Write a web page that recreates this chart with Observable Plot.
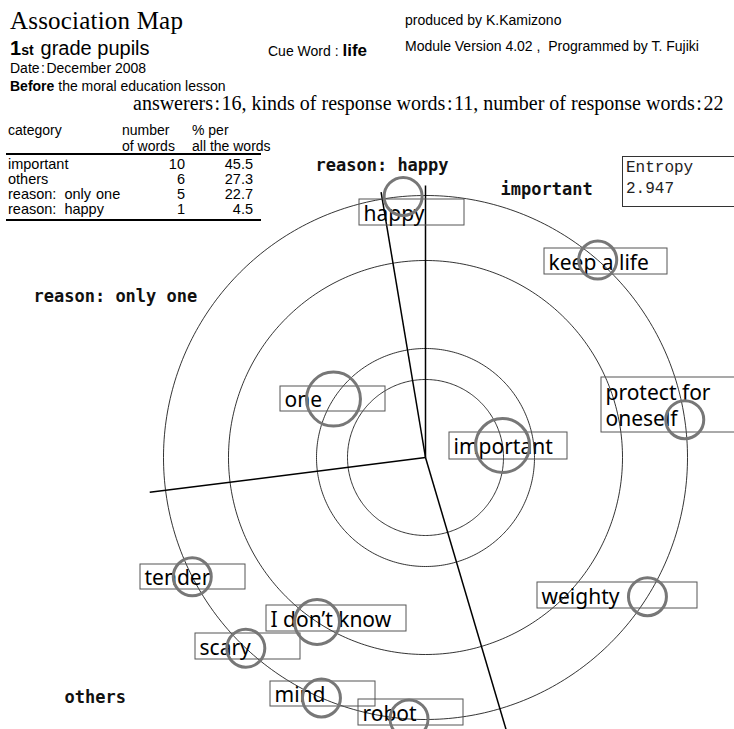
<!DOCTYPE html>
<html><head><meta charset="utf-8">
<script src="https://cdn.jsdelivr.net/npm/d3@7"></script>
<script src="https://cdn.jsdelivr.net/npm/@observablehq/plot@0.6"></script>
<style>
body{margin:0;background:#fff;}
#wrap{position:relative;width:734px;height:729px;overflow:hidden;font-family:"Liberation Sans",Arial,sans-serif;color:#000;background:#fff;}
#wrap svg{position:absolute;left:0;top:0;}
.t{position:absolute;white-space:pre;line-height:1;}
.rule{position:absolute;background:#000;}
.c{margin:0 1.5px;}
.cc{margin-right:3px;}
</style></head><body><div id="wrap"></div>
<script>
// ---- summary table data ----
const categories = ["important", "others", "reason: only one", "reason: happy"];
const categoryWordCounts = [10, 6, 5, 1];
const categoryPercents = ["45.5", "27.3", "22.7", "4.5"];

// ---- category sector boundaries (deg clockwise from up) and spoke lengths ----
const spokeAngles = [0, 163.5, 262.8, 350.5];
const spokeLengths = [272, 290, 278, 269];

// ---- category label anchors (map units, centre = 0,0, y up) ----
const catLabelX = [75, -361, -392, -110];
const catLabelY = [268, -240, 161, 292];

// ---- frequency rings ----
const ringCounts = [7, 5, 2, 1];
const ringRadii = [78, 109, 197, 262];

// ---- response words ----
const words = ["happy", "keep a life", "one", "important", "protect for\noneself", "weighty", "tender", "I don\u2019t know", "scary", "mind", "robot"];
const wordCategory = ["reason: happy", "important", "reason: only one", "important", "important", "important", "others", "others", "others", "others", "others"];
const wordCounts = [1, 1, 5, 7, 1, 1, 1, 2, 1, 1, 1];
const wordAngles = [355.1, 41.1, 302.4, 81.1, 81.7, 122.1, 242.9, 213.4, 223.3, 203.4, 183.6];
// label boxes: left, top, width, height (map units)
const boxLeft = [-66, 119, -145, 24, 176, 112, -285, -159, -230, -155, -67];
const boxTop = [258, 209, 71, 25, 80, -125, -107, -148, -176, -224, -242];
const boxW = [105, 123, 105, 118, 140, 160, 105, 140, 105, 105, 105];
const boxH = [26, 26, 25, 27, 55, 26, 25, 26, 26, 25, 26];

const entropy = "2.947";

// ---- build tables ----
const rad = d => d * Math.PI / 180;
const ringOf = c => ringRadii[ringCounts.indexOf(c)];
const wordData = words.map((w, i) => {
  const r = ringOf(wordCounts[i]);
  return {
    word: w, category: wordCategory[i], count: wordCounts[i],
    x: r * Math.sin(rad(wordAngles[i])), y: r * Math.cos(rad(wordAngles[i])),
    x1: boxLeft[i], x2: boxLeft[i] + boxW[i], y1: boxTop[i], y2: boxTop[i] - boxH[i]
  };
});
const ringPts = [];
ringRadii.forEach((r, k) => {
  for (let a = 0; a <= 360; a += 1) ringPts.push({ring: k, x: r * Math.sin(rad(a)), y: r * Math.cos(rad(a))});
});
const spokes = spokeAngles.map((a, i) => ({angle: a, x2: spokeLengths[i] * Math.sin(rad(a)), y2: spokeLengths[i] * Math.cos(rad(a))}));
const catLabels = categories.map((c, i) => ({name: c, x: catLabelX[i], y: catLabelY[i]}));

const chart = Plot.plot({
  width: 734, height: 729, margin: 0,
  x: {domain: [-425, 309], axis: null},
  y: {domain: [-272, 457], axis: null},
  r: {type: "log", domain: [1, 5], range: [19, 27], clamp: true},
  marks: [
    Plot.line(ringPts, {x: "x", y: "y", z: "ring", stroke: "#000", strokeWidth: 0.8}),
    Plot.link(spokes, {x1: () => 0, y1: () => 0, x2: "x2", y2: "y2", stroke: "#000", strokeWidth: 1.5}),
    Plot.rect(wordData, {x1: "x1", x2: "x2", y1: "y1", y2: "y2", stroke: "#555", strokeWidth: 1, fill: "none"}),
    Plot.text(wordData, {x: d => d.x1 + 4, y: d => (d.y1 + d.y2) / 2, text: "word", textAnchor: "start", lineAnchor: "middle", lineHeight: 1.24, fontSize: 21, fontFamily: "Noto Sans", fill: "#000"}),
    Plot.dot(wordData, {x: "x", y: "y", r: "count", stroke: "#777", strokeWidth: 3, fill: "none"}),
    Plot.text(catLabels, {x: "x", y: "y", text: "name", textAnchor: "start", lineAnchor: "middle", fontSize: 17, fontWeight: "bold", fontFamily: "DejaVu Sans Mono", fill: "#111"})
  ]
});
const wrap = document.getElementById("wrap");
wrap.appendChild(chart);

// ---- text overlays ----
function put(html, left, baseline, size, opts = {}) {
  const el = document.createElement("div");
  el.className = "t";
  el.innerHTML = html;
  const fam = opts.family || '"Liberation Sans", Arial, sans-serif';
  const k = opts.k || 0.847;
  el.style.fontFamily = fam;
  el.style.fontSize = size + "px";
  el.style.top = (baseline - k * size) + "px";
  if (opts.right != null) { el.style.right = (734 - opts.right) + "px"; el.style.textAlign = "right"; }
  else el.style.left = left + "px";
  if (opts.ls) el.style.letterSpacing = opts.ls + "px";
  if (opts.ws) el.style.wordSpacing = opts.ws + "px";
  if (opts.color) el.style.color = opts.color;
  wrap.appendChild(el);
  return el;
}
const serif = '"Liberation Serif", "Times New Roman", serif';
put("Association Map", 10, 29, 25, {family: serif, k: 0.8375, ls: 0.2});
put('<b>1</b><b style="font-size:14px;margin-right:7px">st</b>grade pupils', 10, 55, 20);
put('Date<span class="c">:</span>December 2008', 10, 73, 14);
put("<b>Before</b> the moral education lesson", 10, 91, 14);
put('Cue Word : <b style="font-size:17px">life</b>', 268, 54, 14);
put("produced by K.Kamizono", 405, 25, 14);
put("Module Version 4.02 ,  Programmed by T. Fujiki", 405, 51, 14);
put('answerers<span class="c">:</span>16, kinds of response words<span class="c">:</span>11, number of response words<span class="c">:</span>22', 133, 110, 20, {family: serif, k: 0.8375});

// summary table
put("category", 8, 135, 14);
put("number", 122, 135, 14);
put("% per", 192, 135, 14);
put("of words", 122, 151, 14);
put("all the words", 192, 151, 14);
function rule(top, h) { const r = document.createElement("div"); r.className = "rule"; r.style.left = "6px"; r.style.width = "255px"; r.style.top = top + "px"; r.style.height = h + "px"; wrap.appendChild(r); }
rule(153, 2);
categories.forEach((c, i) => {
  const b = 169 + 15 * i;
  put(c.replace(":", '<span class="cc">:</span>'), 8, b, 14.5, {ws: 1});
  put(String(categoryWordCounts[i]), 0, b, 14.5, {right: 185});
  put(categoryPercents[i], 0, b, 14.5, {right: 253});
});
rule(219, 2);

// entropy box
const eb = document.createElement("div");
eb.style.cssText = 'position:absolute;left:622px;top:156px;width:140px;height:51px;border:1px solid #333;box-sizing:border-box;font-family:"Liberation Mono",monospace;font-size:16px;line-height:21px;padding:1px 0 0 3px;color:#222;white-space:pre;';
eb.textContent = "Entropy\n" + entropy;
wrap.appendChild(eb);
</script></body></html>
